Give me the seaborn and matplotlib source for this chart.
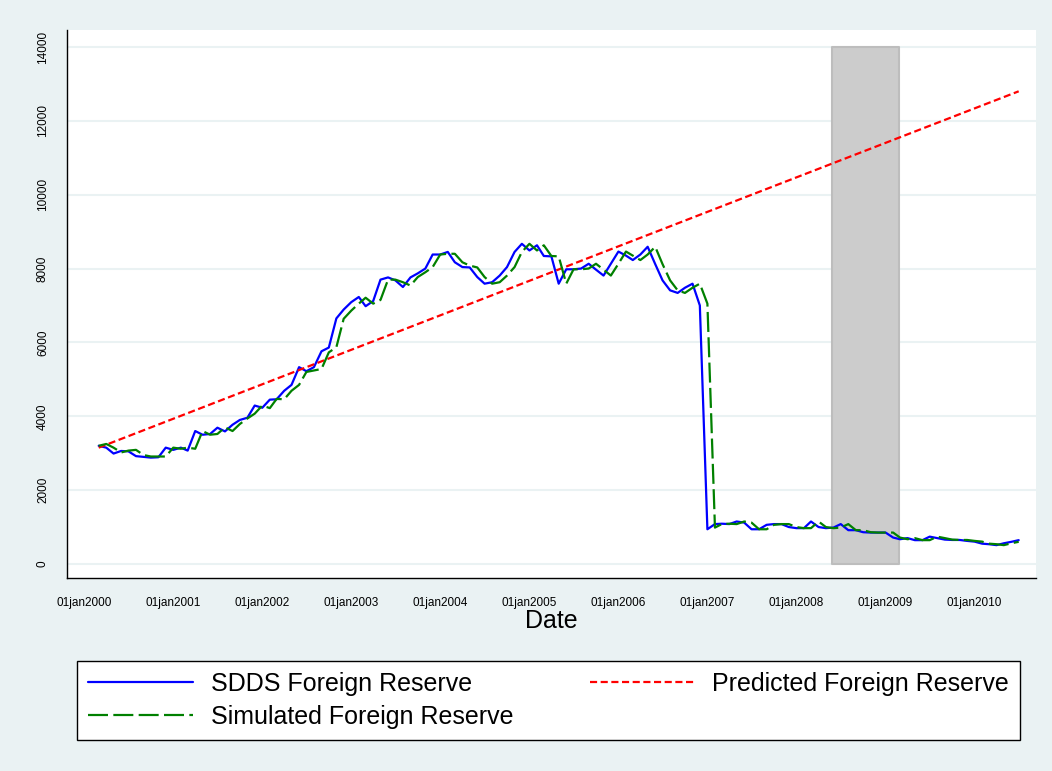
import pandas as pd
import numpy as np
import matplotlib
matplotlib.use("Agg")
import matplotlib.pyplot as plt
import seaborn as sns

# monthly data, Mar 2000 - Jul 2010
sdds = [3200, 3150, 2990, 3060, 3050, 2920, 2900, 2880, 2890, 3150,
        3090, 3150, 3070, 3600, 3500, 3520, 3690, 3590, 3770, 3900,
        3960, 4290, 4230, 4450, 4460, 4690, 4850, 5330, 5220, 5330,
        5760, 5860, 6650, 6890, 7090, 7230, 6980, 7120, 7700, 7760,
        7680, 7500, 7760, 7870, 8000, 8380, 8380, 8450, 8170, 8040,
        8030, 7770, 7590, 7630, 7810, 8040, 8450, 8670, 8490, 8630,
        8340, 8330, 7590, 7980, 7980, 8000, 8130, 7970, 7810, 8130,
        8460, 8350, 8230, 8380, 8590, 8120, 7680, 7410, 7340, 7480,
        7590, 7000, 940, 1080, 1090, 1080, 1150, 1120, 940, 940,
        1060, 1080, 1080, 1000, 970, 970, 1150, 1000, 970, 985,
        1080, 915, 915, 860, 850, 850, 850, 715, 670, 700,
        645, 645, 740, 700, 660, 650, 650, 625, 605, 550,
        535, 510, 560, 600, 645]

simulated = [3200, 3250, 3150, 3020, 3070, 3090, 2950, 2910, 2910, 2910,
             3150, 3120, 3150, 3120, 3600, 3500, 3520, 3700, 3600, 3790,
             3940, 4070, 4290, 4220, 4470, 4460, 4690, 4850, 5200, 5240,
             5280, 5730, 5870, 6640, 6860, 7050, 7210, 7050, 7150, 7700,
             7700, 7630, 7540, 7770, 7900, 8040, 8380, 8400, 8400, 8170,
             8080, 8030, 7770, 7590, 7630, 7810, 8040, 8450, 8670, 8490,
             8630, 8340, 8330, 7590, 7980, 7980, 8000, 8130, 7970, 7810,
             8130, 8460, 8350, 8230, 8380, 8590, 8120, 7680, 7410, 7340,
             7480, 7590, 7050, 985, 1080, 1090, 1080, 1150, 1120, 940,
             940, 1060, 1080, 1080, 1000, 970, 970, 1150, 1000, 970,
             985, 1080, 915, 915, 860, 850, 850, 850, 715, 670,
             700, 645, 645, 740, 700, 660, 650, 650, 625, 605,
             550, 535, 510, 560, 600]

dates = pd.date_range("2000-03-01", periods=len(sdds), freq="MS")

pred_dates = pd.to_datetime(["2000-03-01", "2010-07-01"])
pred_vals = [3150, 12800]

shade_start = pd.Timestamp("2008-05-27")
shade_end = pd.Timestamp("2009-02-24")
shade_top = 14000

year_ticks = pd.date_range("2000-01-01", "2010-01-01", freq="YS")
xtick_labels = ["01jan2000", "01jan2001", "01jan2002", "01jan2003", "01jan2004",
                "01jan2005", "01jan2006", "01jan2007", "01jan2008", "01jan2009",
                "01jan2010"]
yticks = [0, 2000, 4000, 6000, 8000, 10000, 12000, 14000]

df = pd.DataFrame({"Date": dates, "SDDS": sdds, "Simulated": simulated})
pred = pd.DataFrame({"Date": pred_dates, "Predicted": pred_vals})

sns.set_style("white")
plt.rcParams["font.family"] = ["Liberation Sans", "DejaVu Sans"]
plt.rcParams["text.color"] = "black"
plt.rcParams["xtick.color"] = "black"
plt.rcParams["ytick.color"] = "black"
plt.rcParams["axes.labelcolor"] = "black"

bg = "#EAF2F3"
fig = plt.figure(figsize=(10.52, 7.71), dpi=100, facecolor=bg)
ax = fig.add_axes([67 / 1052, 1 - 578 / 771, (1036 - 67) / 1052, (578 - 30) / 771])
ax.set_facecolor("white")

# shaded period
ax.fill_between([shade_start, shade_end], 0, shade_top, color="#CCCCCC",
                edgecolor="#BDBDBD", linewidth=1.5, zorder=1)

sns.lineplot(data=df, x="Date", y="SDDS", ax=ax, color="#0000FF", lw=1.6,
             label="SDDS Foreign Reserve", zorder=3)
sns.lineplot(data=pred, x="Date", y="Predicted", ax=ax, color="#FF0000", lw=1.6,
             label="Predicted Foreign Reserve", zorder=3)
sns.lineplot(data=df, x="Date", y="Simulated", ax=ax, color="#008000", lw=1.6,
             label="Simulated Foreign Reserve", zorder=3)
lines = ax.get_lines()
lines[1].set_dashes([3.2, 1.6])
lines[2].set_dashes([9, 2.4])

ax.set_xlim(pd.Timestamp("1999-10-23"), pd.Timestamp("2010-09-10"))
ax.set_ylim(-380, 14460)
ax.set_yticks(yticks)
ax.set_yticklabels([str(v) for v in yticks], rotation=90, va="center", fontsize=8.5)
ax.set_xticks(year_ticks)
ax.set_xticklabels(xtick_labels, fontsize=8.5)
ax.tick_params(axis="x", length=8, width=1, pad=6, color="#222222")
ax.tick_params(axis="y", length=8, width=1, pad=5, color="#222222")
ax.grid(axis="y", color=bg, lw=1.5, zorder=0)
ax.set_axisbelow(True)
for s in ["top", "right"]:
    ax.spines[s].set_visible(False)
for s in ["left", "bottom"]:
    ax.spines[s].set_color("black")
    ax.spines[s].set_linewidth(1)
ax.set_xlabel("Date", fontsize=18, labelpad=0)
ax.set_ylabel("")

h, l = ax.get_legend_handles_labels()
ax.get_legend().remove()
order = [0, 2, 1]
leg = fig.legend([h[i] for i in order], [l[i] for i in order], ncol=2,
                 loc="lower left", mode="expand",
                 bbox_to_anchor=(77 / 1052, 1 - 740 / 771, 943 / 1052, 94 / 771),
                 fontsize=18, frameon=True, fancybox=False, edgecolor="black",
                 facecolor="white", framealpha=1, handlelength=4.2,
                 handletextpad=0.7, labelspacing=0.35, borderpad=0.45,
                 borderaxespad=0)
leg.get_frame().set_linewidth(1)

fig.savefig("out.png", dpi=100, facecolor=bg)
